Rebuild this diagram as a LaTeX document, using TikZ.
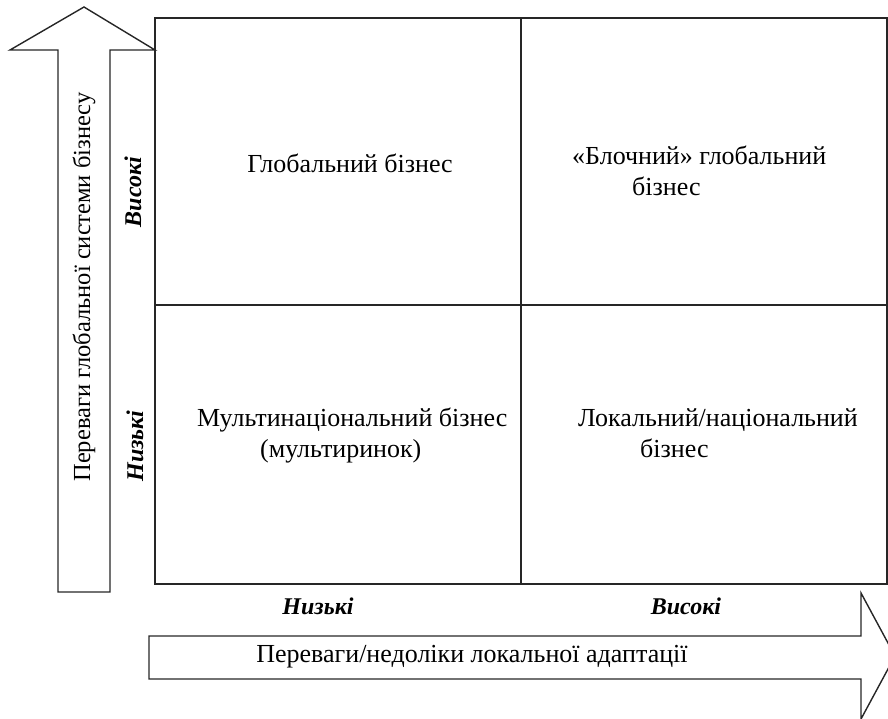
\documentclass[tikz,border=0pt]{standalone}
\usepackage{fontspec}
\setmainfont{Liberation Serif}
\begin{document}
\begin{tikzpicture}[x=1pt,y=-1pt,
  frame/.style={draw=black!85,line width=1.4pt,line join=miter},
  celltext/.style={font=\fontsize{26}{31}\selectfont,inner sep=0pt,align=left},
  axislabel/.style={font=\fontsize{26}{31}\selectfont,inner sep=0pt},
  levellabel/.style={font=\fontsize{24}{28}\selectfont\bfseries\itshape,inner sep=0pt}]
\useasboundingbox (0,0) rectangle (888,719);
\clip (0,0) rectangle (888,719);
% up arrow
\draw[frame] (58,592) -- (58,50) -- (10,50) -- (84,7) -- (155,50) -- (110,50) -- (110,592) -- cycle;
% bottom arrow
\draw[frame] (149,636) -- (861,636) -- (861,593) -- (895,656) -- (861,719) -- (861,679) -- (149,679) -- cycle;
% grid
\draw[frame] (155,18) rectangle (887,584);
\draw[frame] (521,18) -- (521,584);
\draw[frame] (155,305) -- (887,305);
% cell texts
\node[celltext] (c1) at (350,163) {Глобальний бізнес};
\node[celltext,anchor=north west] (c2) at (572,146) {«Блочний» глобальний\\\hspace*{60pt}бізнес};
\node[celltext,anchor=north west] (c3) at (197,408) {Мультинаціональний бізнес\\\hspace*{63pt}(мультиринок)};
\node[celltext,anchor=north west] (c4) at (578,408) {Локальний/національний\\\hspace*{62pt}бізнес};
% axis labels
\node[axislabel,font=\fontsize{24.5}{29}\selectfont,rotate=90] (ya) at (84,287) {Переваги глобальної системи бізнесу};
\node[axislabel] (xa) at (472,657) {Переваги/недоліки локальної адаптації};
% level labels
\node[levellabel,rotate=90] (yh) at (133,192) {Високі};
\node[levellabel,rotate=90] (yl) at (135,446) {Низькі};
\node[levellabel] (xl) at (318,606) {Низькі};
\node[levellabel] (xh) at (686,606) {Високі};
\end{tikzpicture}
\end{document}
